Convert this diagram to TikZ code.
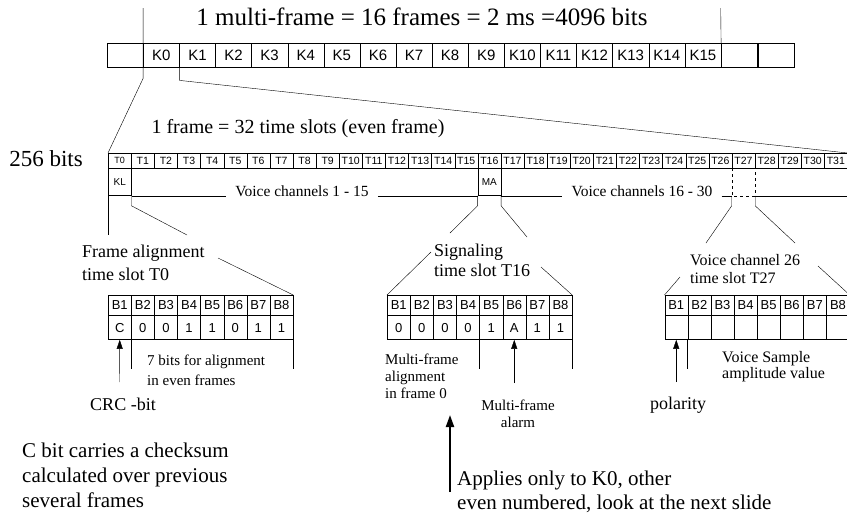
\documentclass[tikz,border=0pt]{standalone}
\usepackage{fontspec}
\setmainfont{Liberation Serif}
\newfontfamily\cellfont{Liberation Sans}
\usetikzlibrary{arrows.meta}

\tikzset{
  kcell/.style={draw, anchor=north west, minimum width=36.1pt, minimum height=24pt,
    inner sep=0pt, font=\cellfont\fontsize{15}{15}\selectfont},
  tcell/.style={draw, anchor=north west, minimum width=23.1pt, minimum height=15pt,
    inner sep=0pt, font=\cellfont\fontsize{10.5}{10.5}\selectfont},
  bcell/.style={draw, anchor=north west, minimum width=23.1pt, minimum height=20pt,
    inner sep=0pt, font=\cellfont\fontsize{13}{13}\selectfont},
  vcell/.style={bcell, minimum height=24pt},
  note/.style={anchor=north west, inner sep=0pt, align=left},
  pointer/.style={-{Triangle[length=9pt,width=6pt]}},
}

\begin{document}
\begin{tikzpicture}[x=1pt,y=-1pt]
    \useasboundingbox (0,0) rectangle (847,515);

    % multi-frame
    \node[anchor=base, font=\fontsize{25}{25}\selectfont] (MF) at (422,25) {1 multi-frame = 16 frames = 2 ms =4096 bits};
    \node[kcell] (lead) at (107,43) {};
    \foreach \i in {0,...,15}
      \node[kcell] (K\i) at ({143.1+36.1*\i},43) {K\i};
    \node[kcell] (tail1) at (K15.north east) {};
    \node[kcell] (tail2) at (tail1.north east) {};

    % frame
    \node[anchor=base, font=\fontsize{20}{20}\selectfont] (FR) at (298,133) {1 frame = 32 time slots (even frame)};
    \node[anchor=base, font=\fontsize{23}{23}\selectfont] (bits) at (46,166) {256 bits};
    \node[tcell, font=\cellfont\fontsize{9}{9}\selectfont] (T0) at (108,153) {T0};
    \foreach \i in {1,...,31}
      \node[tcell] (T\i) at ({108+23.1*\i},153) {T\i};
    \node[tcell, minimum height=27pt, font=\cellfont\fontsize{10}{10}\selectfont] (KL) at (T0.south west) {KL};
    \node[tcell, minimum height=27pt, font=\cellfont\fontsize{10}{10}\selectfont] (MA) at (T16.south west) {MA};
    \node[tcell, minimum height=27pt, draw=none] (VS) at (T27.south west) {};
    \draw[dashed] (VS.north west) -- (VS.south west) -- (VS.south east) -- (VS.north east);
    \node[anchor=base, inner sep=9pt, font=\fontsize{15.5}{15.5}\selectfont] (V1) at (302,196) {Voice channels 1 - 15};
    \node[anchor=base, inner sep=9pt, font=\fontsize{15.5}{15.5}\selectfont] (V2) at (642,196) {Voice channels 16 - 30};

    \coordinate (topL) at (143.1,8);
    \coordinate (topR) at (720.7,8);
    \coordinate (frameL) at (108,235);
    \draw (topL) -- (K0.south west) -- ++(0,11) -- (T0.north west);
    \draw (topR) -- (K15.north east);
    \draw (K0.south east) -- ++(0,13) -- (T31.north east);
    \draw (KL.south west) -- (frameL);
    \draw (KL.south east) -- (V1.west |- KL.south);
    \draw (V1.east |- KL.south) -- (MA.south west);
    \draw (MA.south east) -- (V2.west |- MA.south);
    \draw (V2.east |- MA.south) -- (VS.south west);
    \draw (VS.south east) -- (T31.south east |- VS.south);

    % zoom lines
    \coordinate (KLend) at (187,235);
    \coordinate (MAl) at (450,233);
    \coordinate (MAr) at (527,237);
    \coordinate (VSl) at (706,243);
    \coordinate (VSr) at (795,243);
    \draw (KL.south east) -- ++(0,10) -- (KLend);
    \draw (MA.south west) -- ++(0,10) -- (MAl);
    \draw (MA.south east) -- ++(0,10) -- (MAr);
    \draw (VS.south west) -- ++(0,10) -- (VSl);
    \draw (VS.south east) -- ++(0,10) -- (VSr);

    % time slot T0
    \node[note, font=\fontsize{18}{23}\selectfont] (FAtext) at (82,245) {Frame alignment\\time slot T0};
    \foreach \b [count=\i] in {C,0,0,1,1,0,1,1} {
      \node[bcell] (FA\i) at ({108+23.1*(\i-1)},295) {B\i};
      \node[vcell] (FV\i) at (FA\i.south west) {\b};
    }
    \coordinate (FAtip) at (218,258);
    \draw (FAtip) -- (FA8.north east);
    \draw (FV2.south west) -- ++(0,29);
    \draw (FV8.south east) -- ++(0,29);
    \node[note, font=\fontsize{15}{20}\selectfont] (FAbits) at (147,355) {7 bits for alignment\\in even frames};
    \node[anchor=base, font=\fontsize{18}{18}\selectfont] (CRC) at (123,410) {CRC -bit};
    \coordinate (CRCtail) at (119.5,382);
    \draw[pointer] (CRCtail) -- (FV1.south);
    \node[note, font=\fontsize{21}{25}\selectfont] (Cbit) at (22,443) {C bit carries a checksum\\calculated over previous\\several frames};

    % time slot T16
    \node[note, font=\fontsize{18}{20}\selectfont] (SGtext) at (434,244) {Signaling\\time slot T16};
    \foreach \b [count=\i] in {0,0,0,0,1,A,1,1} {
      \node[bcell] (SG\i) at ({387+23.1*(\i-1)},295) {B\i};
      \node[vcell] (SV\i) at (SG\i.south west) {\b};
    }
    \coordinate (SGtipL) at (431,252);
    \coordinate (SGtipR) at (541,267);
    \draw (SGtipL) -- (SG1.north west);
    \draw (SGtipR) -- (SG8.north east);
    \draw (SV5.south west) -- ++(0,29);
    \draw (SV8.south east) -- ++(0,29);
    \node[note, font=\fontsize{15}{17}\selectfont] (MFalign) at (385,354) {Multi-frame\\alignment\\in frame 0};
    \node[anchor=north, inner sep=0pt, align=center, font=\fontsize{15}{17}\selectfont] (MFalarm) at (518,400) {Multi-frame\\alarm};
    \coordinate (alarmTail) at (SV6.south |- 0,383);
    \draw[pointer] (alarmTail) -- (SV6.south);
    \coordinate (K0tail) at (450,492);
    \coordinate (K0tip) at (450,415);
    \draw[line width=2pt, -{Triangle[length=12pt,width=8pt]}] (K0tail) -- (K0tip);
    \node[note, font=\fontsize{21}{24}\selectfont] (K0note) at (457,471) {Applies only to K0, other\\even numbered, look at the next slide};

    % time slot T27
    \node[note, font=\fontsize{16}{18}\selectfont] (VOtext) at (690,254) {Voice channel 26\\time slot T27};
    \foreach \i in {1,...,8} {
      \node[bcell] (VO\i) at ({664.5+23.1*(\i-1)},295) {B\i};
      \node[vcell] (VV\i) at (VO\i.south west) {};
    }
    \coordinate (VOtipL) at (680,277);
    \coordinate (VOtipR) at (818,266);
    \draw (VOtipL) -- (VO1.north west);
    \draw (VOtipR) -- (VO8.north east);
    \draw (VV2.south west) -- ++(0,29);
    \node[note, font=\fontsize{16}{16.5}\selectfont] (VOsample) at (722,351) {Voice Sample\\amplitude value};
    \node[anchor=base, font=\fontsize{18}{18}\selectfont] (pol) at (678,409) {polarity};
    \coordinate (polTail) at (VV1.south |- 0,382);
    \draw[pointer] (polTail) -- (VV1.south);
\end{tikzpicture}
\end{document}
